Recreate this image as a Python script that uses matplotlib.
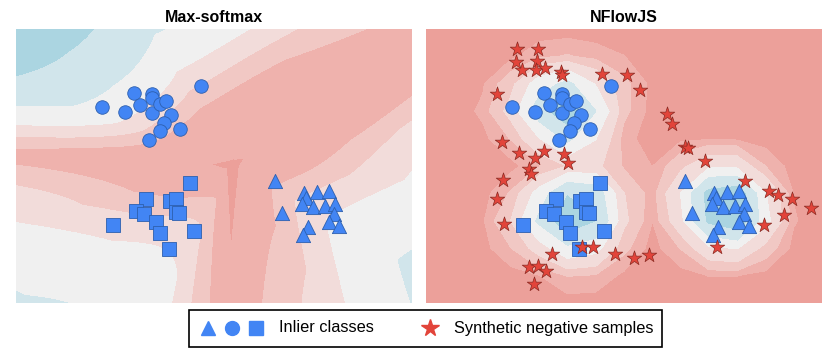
import numpy as np
import matplotlib

matplotlib.use("Agg")
import matplotlib.pyplot as plt
from matplotlib.lines import Line2D
from matplotlib.patches import Rectangle

plt.rcParams['font.family'] = ['Liberation Sans', 'DejaVu Sans']

# inlier classes (same points in both panels)
circles_x = [2.16, 2.72, 2.95, 3.10, 3.41, 3.41, 3.39, 3.61, 3.76, 3.88, 3.69, 3.60, 4.10, 3.32, 4.63]
circles_y = [4.89, 4.77, 5.26, 4.96, 5.23, 5.13, 4.76, 4.97, 5.04, 4.70, 4.49, 4.31, 4.36, 4.07, 5.42]
squares_x = [4.34, 3.25, 3.01, 3.20, 3.84, 4.01, 4.01, 4.07, 3.51, 2.43, 3.61, 4.45, 3.83]
squares_y = [3.01, 2.61, 2.30, 2.22, 2.55, 2.61, 2.28, 2.24, 2.03, 1.95, 1.75, 1.81, 1.36]
triangles_x = [6.48, 6.64, 7.21, 7.52, 7.83, 7.25, 7.16, 7.43, 7.73, 7.98, 7.95, 7.83, 8.08, 7.31, 7.17]
triangles_y = [3.05, 2.26, 2.76, 2.78, 2.81, 2.63, 2.47, 2.40, 2.43, 2.48, 2.22, 2.03, 1.92, 1.90, 1.70]

# synthetic negative samples (NFlowJS panel)
stars_x = [2.28, 2.81, 2.24, 2.77, 2.40, 2.75, 2.97, 3.38, 3.41, 4.39, 5.02, 5.35, 1.78, 6.02,
           6.14, 1.89, 2.33, 2.73, 2.95, 3.46, 3.54, 2.58, 2.63, 6.48, 6.56, 6.98, 1.93, 1.78,
           7.98, 8.58, 8.79, 9.14, 9.62, 8.94, 8.46, 1.95, 7.27, 3.89, 4.18, 4.73, 5.20, 5.57,
           3.15, 2.58, 2.81, 3.00, 2.70]
stars_y = [6.34, 6.35, 6.03, 6.06, 5.82, 5.82, 5.87, 5.78, 5.70, 5.73, 5.69, 5.33, 5.22, 4.73,
           4.47, 4.03, 3.74, 3.62, 3.80, 3.72, 3.51, 3.35, 3.22, 3.91, 3.88, 3.56, 3.08, 2.61,
           3.06, 2.81, 2.71, 2.61, 2.38, 2.19, 1.95, 1.98, 1.39, 1.39, 1.39, 1.23, 1.13, 1.20,
           1.22, 0.91, 0.93, 0.80, 0.48]

titles = ["Max-softmax", "NFlowJS"]

XMAX, YMAX = 9.9, 6.85
BLUE = "#4285f4"
RED = "#e2443a"
level_colors = ["#eca09a", "#efb2ad", "#f1c8c4", "#f2dcda", "#f0f0f0", "#d1e5eb", "#abd5e1"]

# toy 3-class softmax classifier: linear logits around the triple point,
# with a direction dependent temperature / radial growth so the bands fan out like the trained net
Y_CENTER = (5.43, 3.45)
CLASS_DIRS = [(0.037, 0.816), (0.0, 0.0), (0.567, -0.034)]
ANG = [-180, -165, -148, -117, -90, -81, -55, -30, -5, 12, 40, 64, 104, 121, 146, 160, 170, 180]
MUL = [0.95, 0.81, 0.845, 1.065, 0.75, 0.57, 0.55, 0.7, 0.6, 0.64, 0.48, 0.48, 0.6, 0.65, 0.97, 1.2, 1.1, 0.95]
EXP = [-0.15, -0.3, -0.4, -0.5, -0.5, -0.5, -0.45, -0.4, -0.4, -0.2, 0, 0, 0, 0, 0.2, 0.25, 0, -0.15]
# thin core of the Y: (arm end point, core length)
CORE_ARMS = [((0.0, 3.65), 0.55), ((5.35, 0.0), 2.15), ((9.9, 6.2), 0.35)]


def softmax_field(xx, yy):
    cx, cy = Y_CENTER
    rx, ry = xx - cx, yy - cy
    R = np.hypot(rx, ry) + 1e-6
    ang = np.degrees(np.arctan2(ry, rx))
    scale = 0.82 * np.interp(ang, ANG, MUL) * (R / 4) ** np.interp(ang, ANG, EXP)
    logits = np.stack([scale * (rx * vx + ry * vy) for vx, vy in CLASS_DIRS])
    logits -= logits.max(axis=0)
    e = np.exp(logits)
    p = (e / e.sum(axis=0)).max(axis=0)
    core = np.zeros(xx.shape, dtype=bool)
    for (ex, ey), core_len in CORE_ARMS:
        L = np.hypot(ex - cx, ey - cy)
        ux, uy = (ex - cx) / L, (ey - cy) / L
        t = np.clip(rx * ux + ry * uy, 0, None)
        d = np.hypot(rx - t * ux, ry - t * uy)
        core |= d < 0.16 * np.clip(1 - t / core_len, 0, None)
    return np.where(core, 0.0, p)


def flow_field(xx, yy, h=0.55):
    # per-class density, each normalised to its own peak
    out = np.zeros_like(xx)
    for px, py in [(circles_x, circles_y), (squares_x, squares_y), (triangles_x, triangles_y)]:
        f = np.zeros_like(xx)
        for a, b in zip(px, py):
            f += np.exp(-((xx - a) ** 2 + (yy - b) ** 2) / (2 * h * h))
        out = np.maximum(out, f / f.max())
    return out


fig = plt.figure(figsize=(8.31, 3.56), dpi=100)
W, H = 831, 356
axes = [fig.add_axes([16 / W, 1 - 303 / H, 396 / W, 274 / H]),
        fig.add_axes([426 / W, 1 - 303 / H, 396 / W, 274 / H])]

gx, gy = np.meshgrid(np.linspace(0, XMAX, 400), np.linspace(0, YMAX, 280))
axes[0].contourf(gx, gy, softmax_field(gx, gy),
                 levels=[-1, 0.2, 0.51, 0.565, 0.625, 0.725, 0.84, 1.01], colors=level_colors)

# coarse grid gives the angular contours of the flow output
cx_, cy_ = np.meshgrid(np.linspace(0, XMAX, 15), np.linspace(0, YMAX, 11))
axes[1].contourf(cx_, cy_, flow_field(cx_, cy_),
                 levels=[0, 0.04, 0.1, 0.2, 0.35, 0.55, 0.8, 1.01], colors=level_colors)

for ax, title in zip(axes, titles):
    ax.scatter(circles_x, circles_y, s=95, marker="o", c=BLUE, edgecolors="#2d5fae", linewidths=0.6, zorder=3)
    ax.scatter(squares_x, squares_y, s=105, marker="s", c=BLUE, edgecolors="#2d5fae", linewidths=0.6, zorder=3)
    ax.scatter(triangles_x, triangles_y, s=105, marker="^", c=BLUE, edgecolors="#2d5fae", linewidths=0.6, zorder=3)
    ax.set_xlim(0, XMAX)
    ax.set_ylim(0, YMAX)
    ax.set_xticks([])
    ax.set_yticks([])
    for sp in ax.spines.values():
        sp.set_visible(False)
    ax.set_title(title, fontsize=11.5, fontweight="bold", pad=5)

axes[1].scatter(stars_x, stars_y, s=120, marker="*", c=RED, edgecolors="#8a2a22", linewidths=0.5, zorder=4)

# legend box drawn below the panels
def fx(p):
    return p / W


def fy(p):
    return 1 - p / H


fig.add_artist(Rectangle((fx(188.5), fy(346.5)), fx(661.5) - fx(188.5), fy(309.5) - fy(346.5),
                         transform=fig.transFigure, fill=False, edgecolor="black", linewidth=1.2))
for xp, m in zip([208, 232, 255.5], ["^", "o", "s"]):
    fig.add_artist(Line2D([fx(xp)], [fy(328)], marker=m, markersize=10 if m != "s" else 9.5,
                          color=BLUE, linestyle="none", transform=fig.transFigure))
fig.add_artist(Line2D([fx(430)], [fy(328)], marker="*", markersize=13, color=RED,
                      linestyle="none", transform=fig.transFigure))
fig.text(fx(279), fy(328), "Inlier classes", fontsize=11.8, va="center", ha="left")
fig.text(fx(454), fy(328), "Synthetic negative samples", fontsize=11.8, va="center", ha="left")

fig.savefig("out.png", dpi=100)
